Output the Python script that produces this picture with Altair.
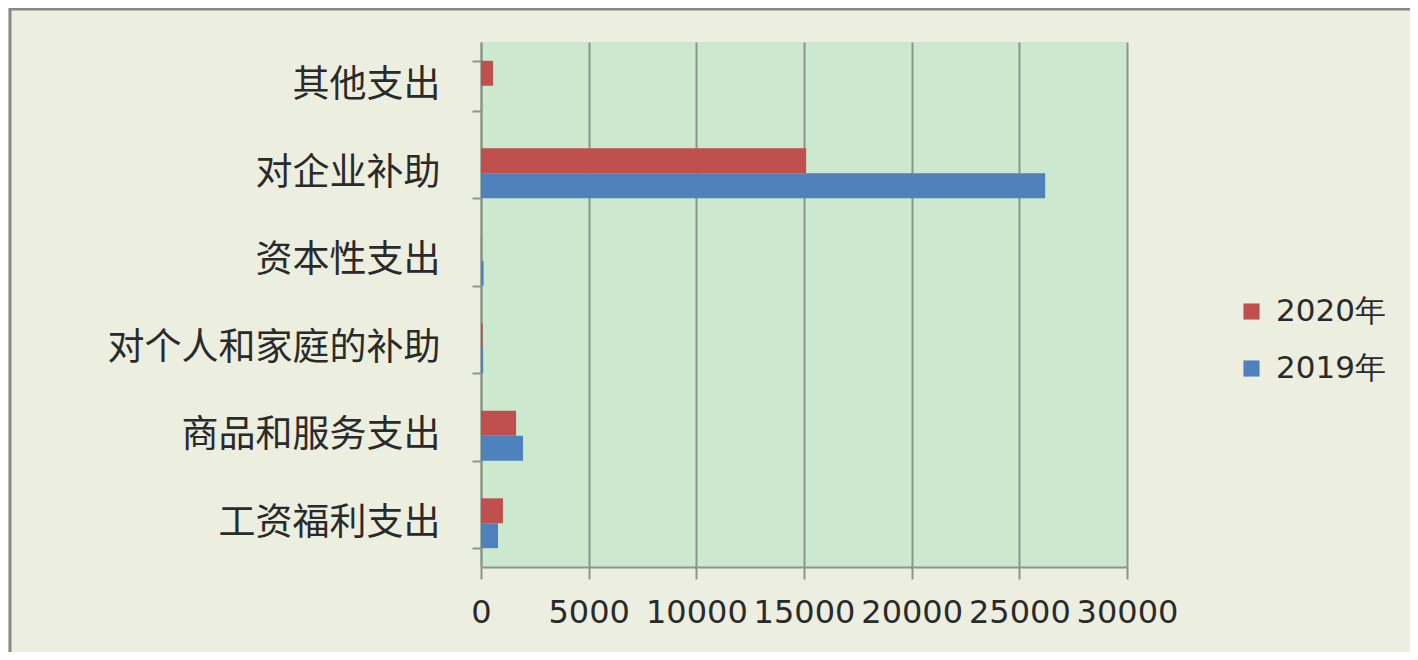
import altair as alt
import pandas as pd

categories = ["其他支出", "对企业补助", "资本性支出", "对个人和家庭的补助", "商品和服务支出", "工资福利支出"]
series = ["2020年", "2019年"]
values_2020 = [560, 15100, 20, 80, 1630, 1020]
values_2019 = [0, 26200, 120, 100, 1950, 790]
x_ticks = [0, 5000, 10000, 15000, 20000, 25000, 30000]

colors = ["#C0504D", "#4F81BD"]

rows = []
for c, v20, v19 in zip(categories, values_2020, values_2019):
    rows.append({"cat": c, "year": series[0], "val": v20})
    rows.append({"cat": c, "year": series[1], "val": v19})
df = pd.DataFrame(rows)

W, H = 646, 525

bars = alt.Chart(df).mark_bar().encode(
    y=alt.Y("cat:N", sort=categories,
            scale=alt.Scale(paddingInner=0.43, paddingOuter=0.215),
            axis=alt.Axis(title=None, labelFont="Noto Sans CJK SC", labelFontSize=37,
                          labelColor="#2a2a2a", labelPadding=32, tickBand="extent",
                          labelLimit=1000,
                          tickSize=9, tickColor="#8A988A", tickWidth=2,
                          domainColor="#8A988A", domainWidth=2, grid=False)),
    yOffset=alt.YOffset("year:N", sort=series, scale=alt.Scale(domain=series, paddingInner=0)),
    x=alt.X("val:Q", scale=alt.Scale(domain=[0, 30000], nice=False),
            axis=alt.Axis(title=None, values=x_ticks, format="d", labelFont="DejaVu Sans",
                          labelFontSize=32, labelColor="#2a2a2a", labelPadding=18,
                          labelOverlap=False, labelFlush=False, labelBound=False,
                          tickSize=12, tickColor="#8A988A", tickWidth=2,
                          domainColor="#8A988A", domainWidth=2,
                          grid=True, gridColor="#8A988A", gridWidth=2)),
    color=alt.Color("year:N", scale=alt.Scale(domain=series, range=colors),
                    legend=alt.Legend(title=None, orient="none", legendX=755, legendY=254,
                                      symbolType="square", symbolSize=260,
                                      symbolStrokeWidth=0,
                                      labelFont="DejaVu Sans", labelFontSize=31,
                                      labelColor="#2a2a2a", rowPadding=25, labelOffset=9)),
)

frame = alt.Chart(pd.DataFrame({"k": [0]})).mark_rect(
    fillOpacity=0, stroke="#888888", strokeWidth=3
).encode(
    x=alt.value(-471), x2=alt.value(W + 400),
    y=alt.value(-33), y2=alt.value(H + 150),
)

chart = alt.layer(frame, bars).properties(
    width=W, height=H,
    autosize=alt.AutoSizeParams(type="none"),
    padding={"left": 473, "top": 34, "right": 283, "bottom": 85},
    background="#ECEEDF",
).configure_view(fill="#CCE8CF", stroke=None)

chart.save("out.html", embed_options={"renderer": "svg", "actions": False})
